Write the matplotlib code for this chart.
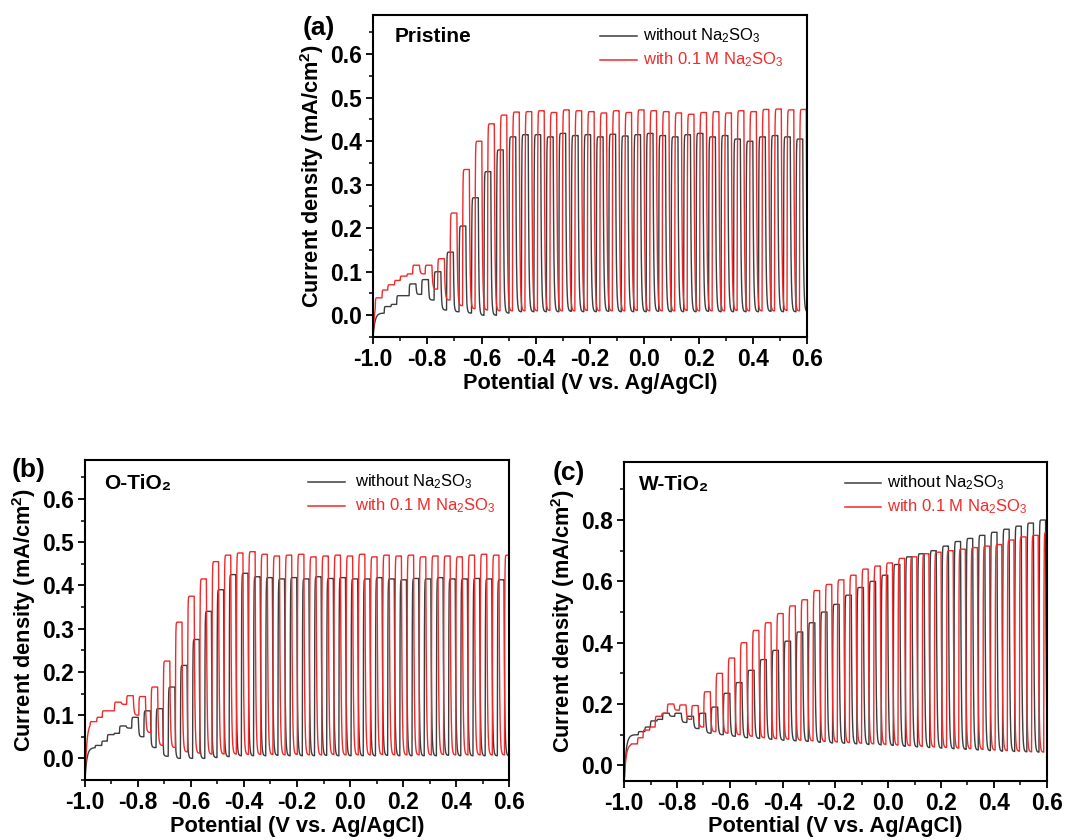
import numpy as np
import matplotlib
matplotlib.use('Agg')
import matplotlib.pyplot as plt
from matplotlib.ticker import MultipleLocator

plt.rcParams['font.family'] = ['Liberation Sans', 'DejaVu Sans']
plt.rcParams['font.weight'] = 'bold'
plt.rcParams['mathtext.fontset'] = 'custom'
plt.rcParams['mathtext.rm'] = 'Liberation Sans'
plt.rcParams['mathtext.bf'] = 'Liberation Sans:bold'
plt.rcParams['mathtext.default'] = 'regular'

# chopped-light LSV, light on/off current per pulse (mA/cm2)
period = 0.046      # V per on/off cycle
duty = 0.55

# (a) Pristine
a_red_first = -0.992
a_red_on = [0.04, 0.07, 0.09, 0.115, 0.115, 0.13, 0.235, 0.335, 0.40, 0.44, 0.46, 0.467,
            0.468, 0.470, 0.466, 0.472, 0.470, 0.468, 0.465, 0.470, 0.466, 0.472, 0.470, 0.468,
            0.465, 0.462, 0.466, 0.468, 0.465, 0.470, 0.468, 0.473, 0.474, 0.472, 0.473]
a_red_off = [0.058, 0.08, 0.095, 0.095, 0.06, 0.035, 0.022, 0.015, 0.012, 0.01, 0.01, 0.01,
             0.01, 0.011, 0.01, 0.01, 0.011, 0.01, 0.01, 0.01, 0.011, 0.01, 0.01, 0.01,
             0.011, 0.01, 0.01, 0.01, 0.011, 0.01, 0.01, 0.01, 0.011, 0.01, 0.01]
a_blk_first = -0.959
a_blk_on = [0.02, 0.045, 0.072, 0.082, 0.10, 0.145, 0.205, 0.27, 0.33, 0.38, 0.41, 0.415,
            0.415, 0.41, 0.418, 0.413, 0.415, 0.41, 0.416, 0.412, 0.415, 0.418, 0.413,
            0.41, 0.415, 0.418, 0.41, 0.413, 0.405, 0.40, 0.41, 0.413, 0.41, 0.405]
a_blk_off = [0.025, 0.045, 0.048, 0.035, 0.012, 0.008, 0.005, 0.0, 0.0, 0.005, 0.008, 0.008,
             0.008, 0.008, 0.009, 0.008, 0.008, 0.009, 0.008, 0.008, 0.008, 0.009, 0.008,
             0.008, 0.008, 0.009, 0.008, 0.008, 0.008, 0.008, 0.009, 0.008, 0.008, 0.008]
a_blk_dip = [0.025, 0.045, 0.045, 0.03, 0.008, -0.008, -0.018, -0.022, -0.022, -0.015, -0.005, 0.005]

# (b) O-TiO2
b_red_first = -0.981
b_red_on = [0.085, 0.11, 0.13, 0.145, 0.143, 0.165, 0.225, 0.315, 0.375, 0.415, 0.455,
            0.47, 0.475, 0.478, 0.472, 0.468, 0.47, 0.472, 0.466, 0.468, 0.47, 0.468,
            0.472, 0.466, 0.47, 0.468, 0.47, 0.466, 0.468, 0.468, 0.466, 0.47, 0.472, 0.47, 0.47]
b_red_off = [0.095, 0.11, 0.125, 0.10, 0.06, 0.03, 0.025, 0.015, 0.012, 0.01, 0.01,
             0.01, 0.009, 0.009, 0.009, 0.008, 0.009, 0.008, 0.008, 0.009, 0.008, 0.008,
             0.008, 0.009, 0.008, 0.008, 0.008, 0.008, 0.009, 0.008, 0.008, 0.008, 0.008, 0.008, 0.008]
b_blk_first = -0.962
b_blk_on = [0.03, 0.055, 0.075, 0.095, 0.11, 0.115, 0.165, 0.215, 0.275, 0.34, 0.39, 0.425,
            0.428, 0.42, 0.418, 0.415, 0.418, 0.415, 0.42, 0.416, 0.418, 0.415, 0.415,
            0.418, 0.415, 0.413, 0.416, 0.415, 0.418, 0.415, 0.415, 0.416, 0.415, 0.413]
b_blk_off = [0.04, 0.058, 0.07, 0.05, 0.025, 0.005, 0.0, 0.0, 0.0, 0.002, 0.004, 0.006,
             0.006, 0.006, 0.007, 0.006, 0.006, 0.006, 0.007, 0.006, 0.006, 0.006, 0.006,
             0.007, 0.006, 0.006, 0.006, 0.006, 0.007, 0.006, 0.006, 0.006, 0.006, 0.006]
b_blk_dip = [0.04, 0.058, 0.07, 0.045, 0.015, -0.015, -0.02, -0.025, -0.04, -0.038, -0.03, -0.01]

# (c) W-TiO2
c_red_first = -0.975
c_red_on = [0.07, 0.115, 0.16, 0.20, 0.197, 0.195, 0.24, 0.30, 0.35, 0.40, 0.44, 0.465,
            0.495, 0.52, 0.54, 0.57, 0.59, 0.605, 0.62, 0.64, 0.65, 0.66, 0.675, 0.68,
            0.69, 0.695, 0.70, 0.705, 0.71, 0.715, 0.72, 0.735, 0.745, 0.75, 0.76]
c_red_off = [0.09, 0.125, 0.17, 0.18, 0.15, 0.125, 0.11, 0.105, 0.10, 0.095, 0.09, 0.087,
             0.085, 0.082, 0.08, 0.078, 0.076, 0.074, 0.072, 0.07, 0.068, 0.066, 0.064, 0.062,
             0.06, 0.058, 0.056, 0.054, 0.052, 0.05, 0.048, 0.046, 0.044, 0.043, 0.042]
c_blk_first = -0.947
c_blk_on = [0.11, 0.145, 0.17, 0.17, 0.16, 0.17, 0.19, 0.235, 0.27, 0.31, 0.345, 0.375,
            0.405, 0.435, 0.465, 0.50, 0.525, 0.555, 0.58, 0.60, 0.62, 0.655, 0.68, 0.69,
            0.70, 0.715, 0.73, 0.74, 0.75, 0.76, 0.77, 0.78, 0.79, 0.80]
c_blk_off = [0.125, 0.15, 0.16, 0.14, 0.12, 0.105, 0.10, 0.095, 0.09, 0.088, 0.085, 0.082,
             0.08, 0.078, 0.075, 0.073, 0.072, 0.07, 0.068, 0.067, 0.065, 0.062, 0.06, 0.058,
             0.056, 0.054, 0.052, 0.05, 0.048, 0.046, 0.045, 0.044, 0.043, 0.042]

# value at -1.0 V and dark current before the first pulse
a_red_start, a_red_pre = -0.05, 0.045
a_blk_start, a_blk_pre = -0.05, 0.005
b_red_start, b_red_pre = -0.05, 0.085
b_blk_start, b_blk_pre = -0.05, 0.025
c_red_start, c_red_pre = -0.05, 0.07
c_blk_start, c_blk_pre = -0.05, 0.10

BLACK = '#3d3d3d'
RED = '#f02a2a'

dx = 0.0005
a_rise = 1 - np.exp(-dx / 0.0008)
a_fall = 1 - np.exp(-dx / 0.0025)
a_init = 1 - np.exp(-dx / 0.007)


def chopped(first, on, off, dip, v_start, v_pre):
    x = np.arange(-1.0, 0.6 + dx / 2, dx)
    edges = first + period * np.arange(len(on))
    target = np.full(x.shape, v_pre)
    for k in range(len(on)):
        t_on = edges[k]
        t_off = t_on + duty * period
        t_end = t_on + period
        target[(x >= t_on) & (x < t_off)] = on[k]
        target[(x >= t_off) & (x < t_end)] = off[k]
        if dip is not None and k < len(dip):
            target[(x >= t_off) & (x < t_off + 0.004)] = dip[k]
    y = np.empty_like(x)
    y[0] = v_start
    for i in range(1, len(x)):
        if x[i] < first:
            a = a_init
        else:
            a = a_rise if target[i] > y[i - 1] else a_fall
        y[i] = y[i - 1] + a * (target[i] - y[i - 1])
    return x, y


def style_axes(ax, ylim, ymajor):
    ax.set_xlim(-1.0, 0.6)
    ax.set_ylim(*ylim)
    ax.xaxis.set_major_locator(MultipleLocator(0.2))
    ax.xaxis.set_minor_locator(MultipleLocator(0.1))
    ax.yaxis.set_major_locator(MultipleLocator(ymajor))
    ax.yaxis.set_minor_locator(MultipleLocator(ymajor / 2))
    ax.tick_params(which='major', direction='out', length=5, width=1.3, labelsize=16.5, pad=3)
    ax.tick_params(which='minor', direction='out', length=3, width=1.1)
    ax.tick_params(top=False, right=False)
    for s in ax.spines.values():
        s.set_linewidth(1.5)
    ax.xaxis.set_major_formatter(plt.FuncFormatter(lambda v, p: '%.1f' % v))
    ax.yaxis.set_major_formatter(plt.FuncFormatter(lambda v, p: '%.1f' % v))
    ax.set_xlabel('Potential (V vs. Ag/AgCl)', fontsize=15.7, fontweight='bold', labelpad=1)
    ax.set_ylabel('Current density (mA/cm$^\\mathbf{2}$)', fontsize=15.7, fontweight='bold', labelpad=3)


def legend(ax, x0, x1, xt, y1, y2):
    ax.plot([x0, x1], [y1, y1], color=BLACK, lw=1.1, transform=ax.transAxes)
    ax.plot([x0, x1], [y2, y2], color=RED, lw=1.1, transform=ax.transAxes)
    ax.text(xt, y1, 'without Na$_2$SO$_3$', transform=ax.transAxes, fontsize=12,
            fontweight='normal', va='center', ha='left', color='black')
    ax.text(xt, y2, 'with 0.1 M Na$_2$SO$_3$', transform=ax.transAxes, fontsize=12,
            fontweight='normal', va='center', ha='left', color=RED)


fig = plt.figure(figsize=(10.8, 8.4), dpi=100)
ax_a = fig.add_axes([0.3454, 0.5988, 0.4019, 0.3833])
ax_b = fig.add_axes([0.0787, 0.0714, 0.3926, 0.3810])
ax_c = fig.add_axes([0.5780, 0.0706, 0.3911, 0.3797])

panels = [
    (ax_a, (a_blk_first, a_blk_on, a_blk_off, a_blk_dip, a_blk_start, a_blk_pre),
     (a_red_first, a_red_on, a_red_off, None, a_red_start, a_red_pre),
     (-0.05, 0.69), 0.1, 'Pristine', (0.049, 0.933), (0.523, 0.608, 0.623, 0.936, 0.860)),
    (ax_b, (b_blk_first, b_blk_on, b_blk_off, b_blk_dip, b_blk_start, b_blk_pre),
     (b_red_first, b_red_on, b_red_off, None, b_red_start, b_red_pre),
     (-0.05, 0.69), 0.1, 'O-TiO\u2082', (0.046, 0.927), (0.526, 0.613, 0.637, 0.932, 0.857)),
    (ax_c, (c_blk_first, c_blk_on, c_blk_off, None, c_blk_start, c_blk_pre),
     (c_red_first, c_red_on, c_red_off, None, c_red_start, c_red_pre),
     (-0.05, 0.99), 0.2, 'W-TiO\u2082', (0.036, 0.930), (0.522, 0.609, 0.623, 0.934, 0.859)),
]

for ax, blk, red, ylim, ymaj, name, name_pos, leg in panels:
    xb, yb = chopped(*blk)
    xr, yr = chopped(*red)
    ax.plot(xb, yb, color=BLACK, lw=1.0)
    ax.plot(xr, yr, color=RED, lw=1.0)
    style_axes(ax, ylim, ymaj)
    ax.text(name_pos[0], name_pos[1], name, transform=ax.transAxes, fontsize=15,
            fontweight='bold', va='center', ha='left')
    legend(ax, *leg)

fig.text(0.2806, 0.9667, '(a)', fontsize=19, fontweight='bold', va='center', ha='left')
fig.text(0.0111, 0.4405, '(b)', fontsize=19, fontweight='bold', va='center', ha='left')
fig.text(0.5120, 0.4370, '(c)', fontsize=19, fontweight='bold', va='center', ha='left')

fig.savefig('out.png', dpi=100)
